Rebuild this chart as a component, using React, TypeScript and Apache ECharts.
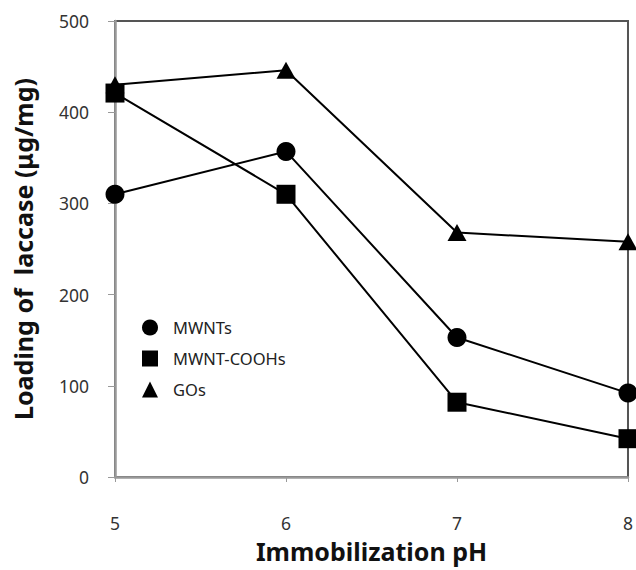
import React, { useEffect, useRef } from "react";
import * as echarts from "echarts";

const phValues = [5, 6, 7, 8];
const mwnts = [310, 357, 153, 92];
const mwntCooh = [421, 310, 82, 42];
const gos = [430, 446, 268, 258];
const seriesNames = ["MWNTs", "MWNT-COOHs", "GOs"];

const FONT = "'Noto Sans', 'Open Sans', sans-serif";

export default function App() {
  const ref = useRef<HTMLDivElement>(null);
  useEffect(() => {
    if (!ref.current) return;
    const chart = echarts.init(ref.current, undefined, { renderer: "svg" });
    const mk = (arr: number[]) => phValues.map((x, i) => [x, arr[i]]);
    const lineStyle = { color: "#000", width: 2 };
    const itemStyle = { color: "#000" };
    chart.setOption({
      animation: false,
      backgroundColor: "#fff",
      grid: {
        left: 115,
        right: 7,
        top: 21,
        bottom: 93,
        containLabel: false,
        show: true,
        borderColor: "#555",
        borderWidth: 2,
        backgroundColor: "transparent",
      },
      legend: {
        orient: "vertical",
        left: 137,
        top: 314,
        itemGap: 14,
        itemWidth: 16,
        itemHeight: 16,
        textStyle: { fontFamily: FONT, fontSize: 16.5, color: "#222", padding: [0, 0, 0, 10] },
        data: [
          { name: seriesNames[0], icon: "circle" },
          { name: seriesNames[1], icon: "rect" },
          { name: seriesNames[2], icon: "triangle" },
        ],
      },
      xAxis: {
        type: "value",
        min: 5,
        max: 8,
        interval: 1,
        name: "Immobilization pH",
        nameLocation: "middle",
        nameGap: 61,
        nameTextStyle: {
          fontFamily: FONT,
          fontSize: 25,
          fontWeight: "bold",
          color: "#111",
          lineHeight: 26,
        },
        axisLine: { show: true, onZero: false, lineStyle: { color: "#999", width: 2.5 } },
        axisTick: { show: true, length: 5, lineStyle: { color: "#999" } },
        axisLabel: { margin: 37, fontFamily: FONT, fontSize: 17.5, color: "#333", lineHeight: 18 },
        splitLine: { show: false },
      },
      yAxis: {
        type: "value",
        min: 0,
        max: 500,
        interval: 100,
        name: "Loading of  laccase (μg/mg)",
        nameLocation: "middle",
        nameGap: 80,
        nameTextStyle: { fontFamily: FONT, fontSize: 25, fontWeight: "bold", color: "#111" },
        axisLine: { show: true, onZero: false, lineStyle: { color: "#999", width: 2.5 } },
        axisTick: { show: true, inside: false, length: 7, lineStyle: { color: "#999" } },
        axisLabel: { margin: 26, fontFamily: FONT, fontSize: 17.5, color: "#333" },
        splitLine: { show: false },
      },
      series: [
        {
          name: seriesNames[0],
          type: "line",
          data: mk(mwnts),
          symbol: "circle",
          symbolSize: 19,
          lineStyle,
          itemStyle,
          z: 3,
        },
        {
          name: seriesNames[1],
          type: "line",
          data: mk(mwntCooh),
          symbol: "rect",
          symbolSize: 19,
          lineStyle,
          itemStyle,
          z: 3,
        },
        {
          name: seriesNames[2],
          type: "line",
          data: mk(gos),
          symbol: "triangle",
          symbolSize: [19, 17],
          lineStyle,
          itemStyle,
          z: 3,
        },
      ],
    });
    return () => chart.dispose();
  }, []);
  return (
    <div
      ref={ref}
      style={{ position: "fixed", left: 0, top: 0, width: 636, height: 570 }}
    />
  );
}
